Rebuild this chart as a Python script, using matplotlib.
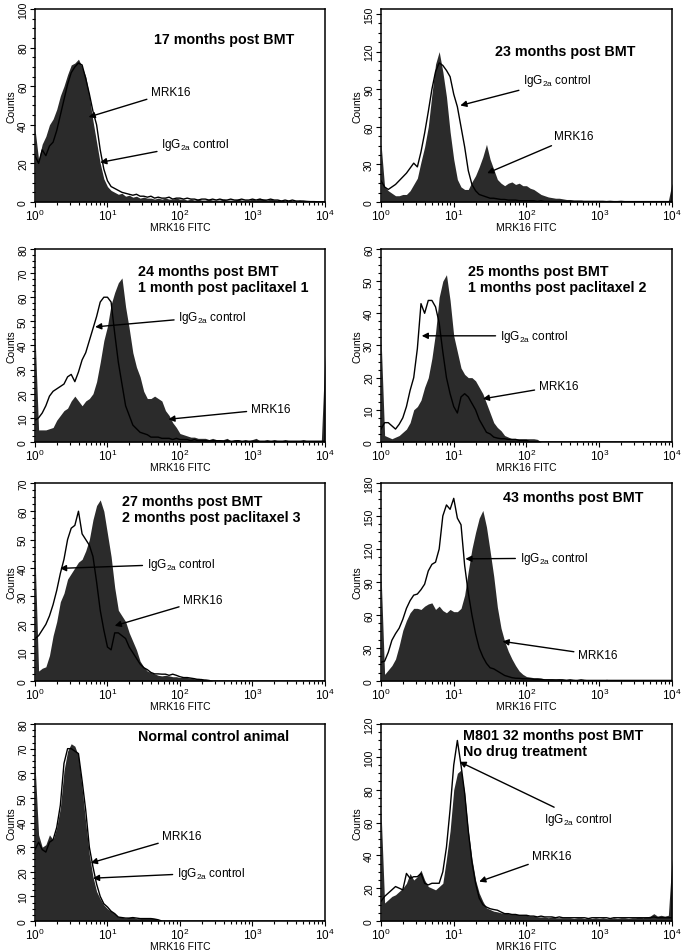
import numpy as np
import matplotlib
matplotlib.use("Agg")
import matplotlib.pyplot as plt
from matplotlib.ticker import AutoMinorLocator, FixedLocator

plt.rcParams['font.family'] = ['Liberation Sans', 'DejaVu Sans']
plt.rcParams['mathtext.fontset'] = 'custom'
plt.rcParams['mathtext.rm'] = 'Liberation Sans'
plt.rcParams['mathtext.it'] = 'Liberation Sans:italic'
plt.rcParams['mathtext.bf'] = 'Liberation Sans:bold'
plt.rcParams['mathtext.default'] = 'regular'

# log channels: 20 channels per decade, 10^0 .. 10^4
channel = np.arange(81)
fitc = 10 ** (channel / 20)

# ---------------- counts per channel ----------------
p1_mrk = [38, 22, 30, 34, 40, 43, 48, 55, 60, 66,
          71, 72, 74, 70, 65, 55, 42, 31, 20, 12,
          8, 6, 5, 4, 4.5, 3, 3.5, 2.5, 3, 2,
          2.5, 2, 2, 1.5, 2, 1.5, 2, 1.5, 1.5, 2,
          1.5, 1.5, 1, 1.5, 1, 1.5, 1, 1, 1.5, 1,
          1, 1, 1.5, 1, 1, 1, 1.5, 1, 1, 1,
          1.5, 1, 2, 1.5, 1, 1.5, 1, 1, 1, 0.5,
          1, 0.5, 0.5, 1, 0.5, 0.5, 0.5, 0.3, 0.2, 0.2,
          0.2]
p1_igg = [24, 20, 27, 24, 29, 31, 37, 45, 53, 61,
          67, 70, 72, 71, 64, 56, 47, 40, 27, 17,
          11, 8, 7, 6, 5, 4.5, 4, 3.5, 4, 3,
          3, 2.5, 3, 2, 2.5, 2, 2, 2.5, 1.5, 2,
          2, 1.5, 2, 1.5, 1.5, 1, 1.5, 1.5, 1, 1.5,
          1, 1.5, 1, 1, 1.5, 1, 1, 1.5, 1, 1,
          1.5, 1, 1.5, 1, 1, 1.5, 1, 1, 0.5, 1,
          0.5, 1, 0.5, 0.5, 0.5, 0.3, 0.2, 0.2, 0.1, 0.1,
          0.1]

p2_mrk = [47, 12, 9, 7, 5, 5, 6, 6, 9, 14,
          19, 32, 44, 60, 86, 110, 120, 104, 84, 56,
          34, 18, 12, 10, 10, 16, 21, 28, 36, 46,
          34, 26, 18, 15, 13, 15, 16, 14, 15, 13,
          13, 11, 10, 8, 6, 5, 4, 3.5, 3, 3,
          2.5, 2, 2, 1.5, 1.5, 1.5, 1, 1, 1, 1,
          1, 1, 1, 0.5, 1, 0.5, 0.5, 1, 0.5, 0.5,
          0.5, 0.5, 1, 0.5, 0.5, 0.5, 0.5, 1, 0.5, 1,
          15]
p2_igg = [17, 12, 10, 12, 14, 17, 20, 23, 27, 31,
          28, 40, 55, 72, 90, 104, 111, 109, 105, 100,
          86, 76, 60, 44, 25, 14, 9, 6, 5, 4,
          3, 3, 2.5, 2, 2, 1.5, 1.5, 1.5, 1, 1,
          1, 1, 1, 0.5, 1, 0.5, 0.5, 0.5, 0.5, 0.5,
          0.5, 0.5, 0.5, 0.5, 0.5, 0.5, 0.5, 0.5, 0.5, 0.5,
          0.5, 0.5, 0.3, 0.5, 0.3, 0.3, 0.5, 0.3, 0.3, 0.3,
          0.3, 0.3, 0.3, 0.3, 0.3, 0.3, 0.3, 0.3, 0.3, 0.3,
          0.3]

p3_mrk = [45, 5, 5, 5, 5.5, 6, 9, 11, 13, 14,
          17, 19, 17, 15, 17, 18, 20, 25, 33, 42,
          48, 57, 62, 66, 68, 56, 47, 37, 31, 27,
          21, 18, 18, 19, 18, 17, 13, 11, 8, 6,
          3.5, 3, 2.5, 2, 2, 1.5, 1.5, 1.5, 1, 1.5,
          1, 1, 1, 1.5, 0.5, 1, 1, 0.5, 1, 0.5,
          1, 1.5, 0.5, 0.5, 1, 0.5, 1, 0.5, 0.5, 1,
          0.5, 0.5, 0.5, 0.5, 1, 0.5, 0.5, 0.5, 0.5, 0.5,
          36]
p3_igg = [9, 10, 12, 15, 19, 21, 22, 23, 24, 27,
          28, 25, 29, 34, 37, 42, 47, 52, 58, 60,
          60, 58, 45, 33, 24, 15, 11, 7, 5.5, 4,
          3.5, 3, 2, 2, 2, 1.5, 1.5, 1.5, 1, 1.5,
          1, 1, 1, 0.5, 1, 0.5, 0.5, 0.5, 0.5, 0.5,
          0.5, 0.5, 0.3, 0.5, 0.3, 0.3, 0.5, 0.3, 0.3, 0.3,
          0.3, 0.3, 0.3, 0.3, 0.3, 0.3, 0.3, 0.3, 0.3, 0.3,
          0.3, 0.3, 0.3, 0.3, 0.3, 0.3, 0.3, 0.3, 0.3, 0.3,
          0.3]

p4_mrk = [33, 2, 1.5, 1, 1.5, 2, 3, 4, 6, 10,
          11, 13, 17, 20, 26, 34, 45, 50, 52, 44,
          33, 28, 23, 21, 20, 20, 19, 17, 15, 12,
          9, 6, 4.5, 3.5, 2, 1.5, 1, 1, 1, 1,
          1, 1, 1, 0.8, 0, 0, 0, 0, 0, 0,
          0, 0, 0, 0, 0, 0, 0, 0, 0, 0,
          0, 0, 0, 0, 0, 0, 0, 0, 0, 0,
          0, 0, 0, 0, 0, 0, 0, 0, 0, 0,
          0]
p4_igg = [4, 6, 6, 5, 4, 5.5, 7.5, 11, 16, 20,
          29, 43, 40, 44, 44, 42, 37, 28, 20, 15,
          11, 9, 14, 15, 14, 12, 10, 7, 5, 3,
          2.5, 1.5, 1.2, 1, 1, 0.8, 0.8, 0.8, 0.5, 0.5,
          0.5, 0, 0, 0, 0, 0, 0, 0, 0, 0,
          0, 0, 0, 0, 0, 0, 0, 0, 0, 0,
          0, 0, 0, 0, 0, 0, 0, 0, 0, 0,
          0, 0, 0, 0, 0, 0, 0, 0, 0, 0,
          0]

p5_mrk = [45, 3.5, 4.5, 5, 9, 16, 21, 28, 31, 36,
          38, 40, 42, 43, 46, 50, 57, 62, 64, 60,
          52, 44, 33, 25, 23, 21, 17, 14, 11, 7,
          5, 3.5, 3, 2.5, 2, 1.8, 2, 1.8, 1.5, 1.5,
          1.2, 1.5, 1.2, 1, 0.8, 1, 0.8, 0.8, 0.6, 0,
          0, 0, 0, 0, 0, 0, 0, 0, 0, 0,
          0, 0, 0, 0, 0, 0, 0, 0, 0, 0,
          0, 0, 0, 0, 0, 0, 0, 0, 0, 0,
          0]
p5_igg = [15, 16, 18, 20, 23, 27, 32, 38, 43, 50,
          54, 55, 60, 52, 50, 48, 44, 35, 25, 18,
          12, 11, 17, 17, 16, 15, 12, 10, 8, 6,
          4.7, 4, 3, 2.5, 2.5, 2.4, 2.4, 2, 2.4, 2,
          1.5, 1.2, 1.2, 1, 0.8, 0.5, 0.5, 0, 0, 0,
          0, 0, 0, 0, 0, 0, 0, 0, 0, 0,
          0, 0, 0, 0, 0, 0, 0, 0, 0, 0,
          0, 0, 0, 0, 0, 0, 0, 0, 0, 0,
          0]

p6_mrk = [99, 6, 10, 14, 20, 32, 46, 55, 62, 66,
          66, 65, 68, 70, 71, 65, 68, 64, 62, 65,
          63, 63, 66, 78, 100, 120, 135, 148, 155, 140,
          118, 95, 67, 48, 36, 27, 20, 14, 9, 6,
          4, 3.5, 3, 3, 2.5, 2, 2, 2, 1.5, 2,
          1.5, 1.5, 1.5, 1.5, 1, 1.5, 1.5, 1, 1, 1,
          1, 1, 1.5, 1, 1, 1, 1, 1, 1, 0.5,
          1, 1, 0.5, 1, 0.5, 1, 0.5, 0.5, 0.5, 1,
          1]
p6_igg = [17, 18, 26, 37, 43, 48, 56, 66, 73, 78,
          79, 83, 88, 100, 106, 108, 120, 150, 160, 156,
          166, 148, 142, 105, 80, 60, 43, 30, 22, 16,
          12, 11, 9, 7, 5, 4, 3, 2.5, 2.4, 2,
          2, 2, 1.5, 1.5, 1.5, 1, 1, 1, 1, 1,
          1, 0.5, 1, 0.5, 0.5, 1, 0.5, 0.5, 0.5, 0.5,
          0.5, 0.5, 0.5, 0.5, 0.5, 0.5, 0.5, 0.5, 0.5, 0.5,
          0.5, 0.5, 0.5, 0.5, 0.5, 0.5, 0.5, 0.5, 0.5, 0.5,
          0.5]

p7_mrk = [64, 35, 30, 31, 35, 33, 38, 46, 61, 69,
          72, 71, 67, 54, 40, 27, 18, 12, 9, 6.5,
          5, 4, 3, 1.6, 1.5, 1.2, 1.5, 1.6, 1, 1,
          1.2, 1.2, 1.2, 1, 0.3, 0, 0, 0, 0, 0,
          0, 0, 0, 0, 0, 0, 0, 0, 0, 0,
          0, 0, 0, 0, 0, 0, 0, 0, 0, 0,
          0, 0, 0, 0, 0, 0, 0, 0, 0, 0,
          0, 0, 0, 0, 0, 0, 0, 0, 0, 0,
          0]
p7_igg = [29, 32, 29, 28, 32, 33, 38, 47, 64, 70,
          70, 69, 68, 57, 45, 30, 22, 15, 10, 7,
          5.7, 4, 3, 1.6, 1.4, 1.2, 1.2, 1.4, 1.2, 1,
          1, 1, 1, 0.8, 0.5, 0, 0, 0, 0, 0,
          0, 0, 0, 0, 0, 0, 0, 0, 0, 0,
          0, 0, 0, 0, 0, 0, 0, 0, 0, 0,
          0, 0, 0, 0, 0, 0, 0, 0, 0, 0,
          0, 0, 0, 0, 0, 0, 0, 0, 0, 0,
          0]

p8_mrk = [68, 11, 13, 15, 16, 18, 20, 23, 29, 25,
          27, 31, 25, 21, 20, 19, 21, 23, 38, 55,
          80, 90, 92, 78, 55, 38, 25, 17, 12, 8,
          7, 6, 5.6, 5, 5, 4.5, 4.5, 4, 4, 3.5,
          3.5, 3, 3, 2.5, 2.5, 2.5, 2, 2.5, 2, 2,
          2, 2, 2, 1.5, 2, 2, 1.5, 2, 1.5, 2,
          1.5, 2, 1.5, 1.5, 2, 1.5, 2, 2, 1.5, 2,
          2, 2.5, 2, 2.5, 3, 4.5, 3, 3.5, 3, 3.5,
          38]
p8_igg = [12, 15, 17, 19, 21, 20, 19, 29, 26, 27,
          27, 29, 23, 22, 23, 23, 23, 30, 45, 68,
          95, 110, 95, 78, 55, 36, 23, 14, 10, 8.5,
          7.5, 7, 6.6, 5.5, 4.5, 4.5, 4, 4, 3.5, 3.5,
          3.5, 3, 3, 2.5, 3, 2.5, 2.5, 2.5, 2, 2.5,
          2, 2, 2, 2, 2, 2, 2, 1.5, 2, 2,
          2, 2, 2, 1.5, 2, 2, 2, 2, 2, 2,
          2, 2, 2, 2, 2, 2.5, 2, 2, 2, 2,
          2]

titles = ["17 months post BMT",
          "23 months post BMT",
          "24 months post BMT\n1 month post paclitaxel 1",
          "25 months post BMT\n1 months post paclitaxel 2",
          "27 months post BMT\n2 months post paclitaxel 3",
          "43 months post BMT",
          "Normal control animal",
          "M801 32 months post BMT\nNo drug treatment"]
y_max = [100, 154, 80, 60, 70, 180, 80, 120]
y_step = [20, 30, 10, 10, 10, 30, 10, 20]
igg_label = "IgG$_{2a}$ control"

# axes rectangles in figure fraction
left_col, right_col = 0.0512, 0.5578
rows = [(0.7870, 0.2025), (0.5352, 0.2025), (0.2844, 0.2078), (0.0325, 0.2067)]

# title position (axes fraction), label text pos (axes fraction), arrow head (decade, count)
layout = [
    dict(t=(0.41, 0.843), mrk=((0.40, 0.57), (0.74, 44)), igg=((0.435, 0.30), (0.90, 20.5))),
    dict(t=(0.393, 0.78), mrk=((0.593, 0.34), (1.46, 23)), igg=((0.488, 0.63), (1.09, 77))),
    dict(t=(0.356, 0.845), mrk=((0.744, 0.17), (1.84, 9.4)), igg=((0.494, 0.65), (0.83, 47.7))),
    dict(t=(0.30, 0.845), mrk=((0.542, 0.29), (1.40, 13.4)), igg=((0.408, 0.55), (0.56, 33))),
    dict(t=(0.299, 0.868), mrk=((0.511, 0.41), (1.10, 19.5)), igg=((0.385, 0.59), (0.345, 39.8))),
    dict(t=(0.418, 0.927), mrk=((0.677, 0.13), (1.67, 36)), igg=((0.476, 0.62), (1.16, 111))),
    dict(t=(0.356, 0.94), mrk=((0.439, 0.43), (0.77, 23.6)), igg=((0.489, 0.245), (0.80, 17.4))),
    dict(t=(0.282, 0.905), mrk=((0.52, 0.33), (1.35, 24)), igg=((0.559, 0.52), (1.08, 97))),
]

data = [(p1_mrk, p1_igg), (p2_mrk, p2_igg), (p3_mrk, p3_igg), (p4_mrk, p4_igg),
        (p5_mrk, p5_igg), (p6_mrk, p6_igg), (p7_mrk, p7_igg), (p8_mrk, p8_igg)]

fig = plt.figure(figsize=(6.83, 9.53), dpi=100)
arrow = dict(arrowstyle='-|>', color='k', lw=1.0, mutation_scale=9, shrinkA=1, shrinkB=0)

for i, (mrk, igg) in enumerate(data):
    r = rows[i // 2]
    x0 = left_col if i % 2 == 0 else right_col
    w = 0.4246 if i % 2 == 0 else 0.4261
    ax = fig.add_axes([x0, r[0], w, r[1]])

    ax.fill_between(fitc, 0, mrk, color='#2b2b2b', lw=0)
    ax.plot(fitc, igg, color='k', lw=1.0)

    ax.set_xscale('log')
    ax.set_xlim(1, 1e4)
    ax.set_ylim(0, y_max[i])
    ax.yaxis.set_major_locator(FixedLocator(np.arange(0, y_max[i] + 1, y_step[i])))
    ax.yaxis.set_minor_locator(AutoMinorLocator(4))
    ax.tick_params(which='both', direction='out', width=0.8, labelsize=7.5, pad=1.5)
    ax.tick_params(which='major', length=3.5)
    ax.tick_params(which='minor', length=2)
    ax.tick_params(axis='x', labelsize=8.5, pad=1)
    for lab in ax.get_yticklabels():
        lab.set_rotation(90)
        lab.set_va('center')
    for s in ax.spines.values():
        s.set_linewidth(1.1)

    ax.set_ylabel("Counts", fontsize=7.5, labelpad=1)
    ax.set_xlabel("MRK16 FITC", fontsize=7.5, labelpad=-1)

    lay = layout[i]
    ax.text(lay['t'][0], lay['t'][1], titles[i], transform=ax.transAxes,
            fontsize=10.3, fontweight='bold', ha='left', va='center', linespacing=1.15)
    (tx, ty), (hx, hy) = lay['mrk']
    ax.annotate("MRK16", xy=(10 ** hx, hy), xycoords='data', xytext=(tx, ty),
                textcoords='axes fraction', fontsize=8.5, ha='left', va='center',
                arrowprops=arrow)
    (tx, ty), (hx, hy) = lay['igg']
    ax.annotate(igg_label, xy=(10 ** hx, hy), xycoords='data', xytext=(tx, ty),
                textcoords='axes fraction', fontsize=8.5, ha='left', va='center',
                arrowprops=arrow)

fig.savefig("out.png", dpi=100)
